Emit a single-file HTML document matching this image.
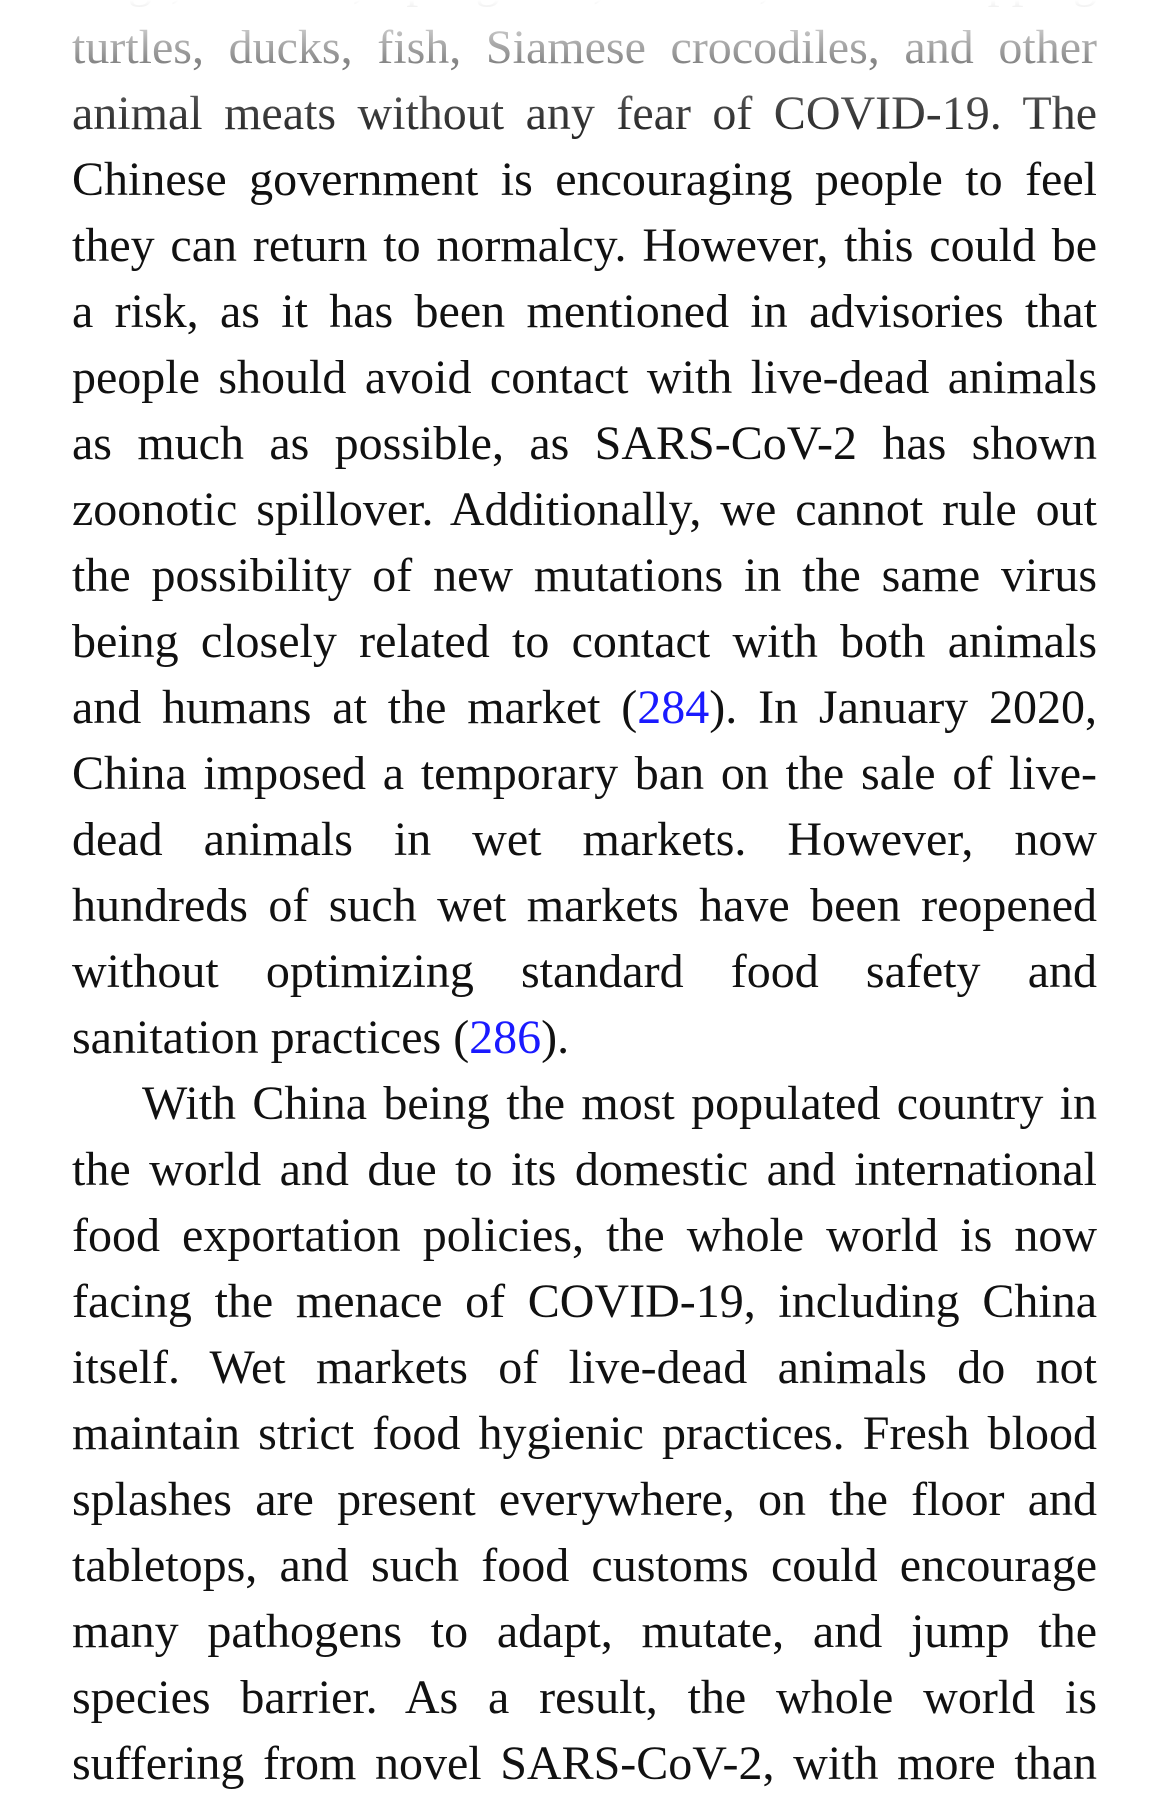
<!DOCTYPE html>
<html><head><meta charset="utf-8"><style>
html,body{margin:0;padding:0;background:#fff;width:1170px;height:1805px;overflow:hidden}
#page{position:absolute;left:72px;top:-51px;width:1025px;font-family:"Liberation Serif",serif;font-size:48px;line-height:66px;color:#111}
.l{height:66px;text-align:justify;text-align-last:justify;white-space:nowrap;overflow:visible}
.l.end{text-align-last:left}
.l.ind{padding-left:70px}
a{color:#1a1aff;text-decoration:none}
#fade{position:absolute;left:0;top:0;width:1170px;height:170px;background:linear-gradient(#fff 0%,rgba(255,255,255,.75) 18%,rgba(255,255,255,.45) 40%,rgba(255,255,255,.15) 70%,rgba(255,255,255,0) 100%);pointer-events:none}
</style></head><body>
<div id="page">
<div class="l">frogs, snakes, pangolins, civets, and snapping</div>
<div class="l">turtles, ducks, fish, Siamese crocodiles, and other</div>
<div class="l">animal meats without any fear of COVID-19. The</div>
<div class="l">Chinese government is encouraging people to feel</div>
<div class="l">they can return to normalcy. However, this could be</div>
<div class="l">a risk, as it has been mentioned in advisories that</div>
<div class="l">people should avoid contact with live-dead animals</div>
<div class="l">as much as possible, as SARS-CoV-2 has shown</div>
<div class="l">zoonotic spillover. Additionally, we cannot rule out</div>
<div class="l">the possibility of new mutations in the same virus</div>
<div class="l">being closely related to contact with both animals</div>
<div class="l">and humans at the market (<a href="#">284</a>). In January 2020,</div>
<div class="l">China imposed a temporary ban on the sale of live-</div>
<div class="l">dead animals in wet markets. However, now</div>
<div class="l">hundreds of such wet markets have been reopened</div>
<div class="l">without optimizing standard food safety and</div>
<div class="l end">sanitation practices (<a href="#">286</a>).</div>
<div class="l ind">With China being the most populated country in</div>
<div class="l">the world and due to its domestic and international</div>
<div class="l">food exportation policies, the whole world is now</div>
<div class="l">facing the menace of COVID-19, including China</div>
<div class="l">itself. Wet markets of live-dead animals do not</div>
<div class="l">maintain strict food hygienic practices. Fresh blood</div>
<div class="l">splashes are present everywhere, on the floor and</div>
<div class="l">tabletops, and such food customs could encourage</div>
<div class="l">many pathogens to adapt, mutate, and jump the</div>
<div class="l">species barrier. As a result, the whole world is</div>
<div class="l">suffering from novel SARS-CoV-2, with more than</div>
</div>
<div id="fade"></div>
</body></html>
